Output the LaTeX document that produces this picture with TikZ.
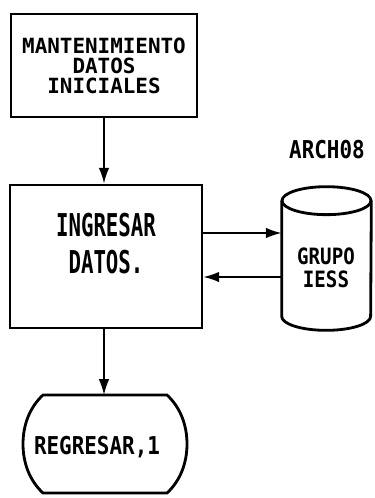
\documentclass[tikz,border=0pt]{standalone}
\usepackage{fontspec}
\newfontfamily\dotfont{DejaVu Sans Mono}
\newfontfamily\dotnarrow{DejaVu Sans Mono}[FakeStretch=0.85]
\newfontfamily\dottall{DejaVu Sans Mono}[FakeStretch=0.66]
\usetikzlibrary{arrows.meta,positioning,calc}

\tikzset{
  procbox/.style={draw, line width=1.6pt, inner sep=0pt, align=center},
  link/.style={line width=1pt, -{Latex[length=9pt,width=6pt]}},
}

\begin{document}
\begin{tikzpicture}[x=0.02cm, y=-0.02cm]
    \useasboundingbox (0,0) rectangle (375,498);

    % Process boxes
    \node[procbox, minimum width=3.72cm, minimum height=2.06cm,
          font=\dotfont\bfseries\fontsize{11.9}{11.4}\selectfont]
          (mant) at (104,65.5) {MANTENIMIENTO\\DATOS\\INICIALES};
    \node[procbox, minimum width=3.84cm, minimum height=2.86cm, text depth=15pt,
          font=\dottall\bfseries\fontsize{17.9}{21.6}\selectfont]
          (ingr) at (106,256.5) {INGRESAR\\DATOS.};

    % File (cylinder)
    \node[inner sep=0pt, minimum width=1.78cm, minimum height=2.3cm] (grupo) at (326.5,258.5) {};
    \draw[line width=1.6pt] (grupo.north west) -- (grupo.south west)
        arc[start angle=180, end angle=360, x radius=0.89cm, y radius=0.28cm] -- (grupo.north east);
    \draw[line width=1.6pt] (grupo.north) ellipse [x radius=0.89cm, y radius=0.28cm];
    \node[align=center, inner sep=0pt, font=\dotnarrow\bfseries\fontsize{12.8}{13}\selectfont]
          (grupotext) at (326,268) {GRUPO\\IESS};
    \node[font=\dotnarrow\bfseries\fontsize{14}{16}\selectfont] (arch) at (327,150) {ARCH08};

    % Terminal
    \draw[line width=1.6pt] (43,395) -- (167,395)
        .. controls (181,408) and (187,426) .. (187,444)
        .. controls (187,462) and (181,480) .. (167,493) -- (43,493)
        .. controls (29,480) and (23,462) .. (23,444)
        .. controls (23,426) and (29,408) .. (43,395) -- cycle;
    \coordinate (rettop) at (104,395);
    \node[font=\dotnarrow\bfseries\fontsize{14}{16}\selectfont] (ret) at (97,447) {REGRESAR,1};

    % Connectors
    \draw[link] (mant.south) -- (mant.south |- ingr.north);
    \draw[link] (ingr.east |- 0,233) -- (grupo.west |- 0,233);
    \draw[link] (grupo.west |- 0,277) -- (ingr.east |- 0,277);
    \draw[link] (ingr.south -| rettop) -- (rettop);
\end{tikzpicture}
\end{document}
